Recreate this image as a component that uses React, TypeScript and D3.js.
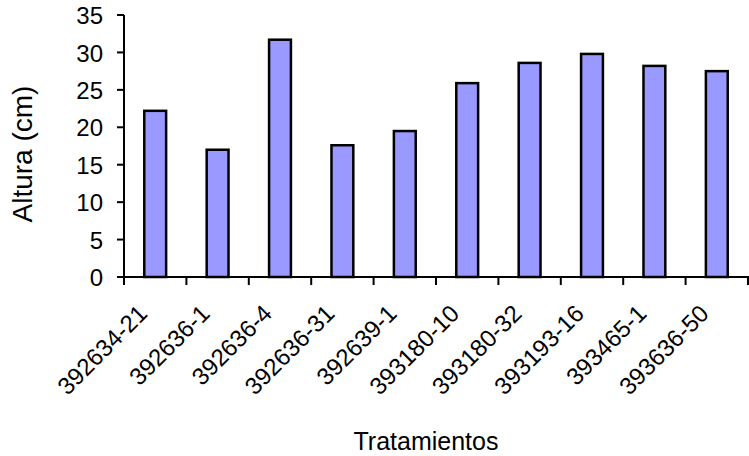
import React from "react";
import * as d3 from "d3";

const categories = [
  "392634-21",
  "392636-1",
  "392636-4",
  "392636-31",
  "392639-1",
  "393180-10",
  "393180-32",
  "393193-16",
  "393465-1",
  "393636-50",
];
const values = [22.2, 17.0, 31.7, 17.6, 19.5, 25.9, 28.6, 29.8, 28.2, 27.5];
const yTicks = [0, 5, 10, 15, 20, 25, 30, 35];
const yTitle = "Altura (cm)";
const xTitle = "Tratamientos";

const W = 749;
const H = 456;
const left = 124;
const right = 748;
const top = 15;
const bottom = 277;
const FONT = "'Liberation Sans', Arial, sans-serif";

export default function App() {
  const x = d3
    .scaleBand<string>()
    .domain(categories)
    .range([left, right])
    .paddingInner(0.65)
    .paddingOuter(0.325);
  const y = d3.scaleLinear().domain([0, 35]).range([bottom, top]);
  const step = x.step();
  const boundaries = d3.range(categories.length + 1).map((i) => left + i * step);

  return (
    <svg
      width={W}
      height={H}
      style={{ position: "absolute", left: 0, top: 0, background: "#fff" }}
      fontFamily={FONT}
    >
      <rect x={0} y={0} width={W} height={H} fill="#fff" />
      {categories.map((c, i) => (
        <rect
          key={c}
          x={x(c)!}
          y={y(values[i])}
          width={x.bandwidth()}
          height={y(0) - y(values[i])}
          fill="#9999FF"
          stroke="#000"
          strokeWidth={2.5}
        />
      ))}
      {/* y axis */}
      <line x1={left} x2={left} y1={y(35)} y2={y(0)} stroke="#000" strokeWidth={2} />
      {yTicks.map((t) => (
        <g key={t}>
          <line x1={left - 7} x2={left} y1={y(t)} y2={y(t)} stroke="#000" strokeWidth={2} />
          <text
            x={103}
            y={y(t)}
            dy="0.38em"
            textAnchor="end"
            fontSize={24}
            fill="#000"
          >
            {t}
          </text>
        </g>
      ))}
      {/* x axis */}
      <line x1={left} x2={right + 1} y1={y(0)} y2={y(0)} stroke="#000" strokeWidth={2} />
      {boundaries.map((b, i) => (
        <line key={i} x1={b} x2={b} y1={y(0)} y2={y(0) + 8} stroke="#000" strokeWidth={2} />
      ))}
      {categories.map((c) => {
        const cx = x(c)! + x.bandwidth() / 2 - 6.5;
        const cy = 315;
        return (
          <text
            key={c}
            x={0}
            y={0}
            transform={`translate(${cx},${cy}) rotate(-45)`}
            textAnchor="end"
            fontSize={24}
            fill="#000"
          >
            {c}
          </text>
        );
      })}
      <text
        transform={`translate(32,154) rotate(-90)`}
        textAnchor="middle"
        fontSize={28}
        fill="#000"
      >
        {yTitle}
      </text>
      <text x={426} y={450} textAnchor="middle" fontSize={25} fill="#000">
        {xTitle}
      </text>
    </svg>
  );
}
